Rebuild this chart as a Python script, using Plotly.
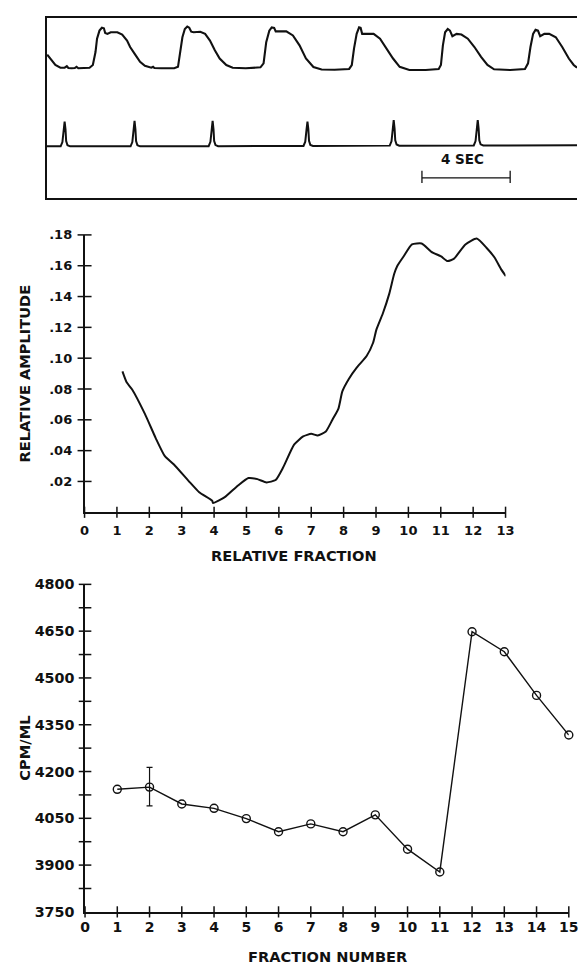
import plotly.graph_objects as go

# ---------------- data ----------------
# Panel A: recorder traces (time in seconds, amplitude in arbitrary chart units 0-100)
pressure_t = [0.01, 0.16, 0.38, 0.61, 0.80, 0.90, 0.97, 1.12, 1.26, 1.34, 1.42, 1.93, 2.08, 2.20, 2.27,
              2.38, 2.49, 2.58, 2.64, 2.74, 2.89, 3.19, 3.41, 3.63, 3.77, 4.00, 4.22, 4.44, 4.73, 4.81,
              4.87, 5.18, 5.77, 5.94, 6.03, 6.14, 6.25, 6.36, 6.45, 6.54, 6.65, 6.95, 7.17, 7.39, 7.61,
              7.83, 8.13, 8.42, 9.01, 9.68, 9.82, 9.94, 10.08, 10.19, 10.30, 10.37, 10.49, 10.85, 11.15,
              11.45, 11.74, 11.90, 12.08, 12.45, 13.04, 13.70, 13.82, 13.92, 14.04, 14.15, 14.22, 14.29,
              14.51, 14.81, 15.10, 15.40, 15.69, 15.99, 16.43, 17.17, 17.76, 17.86, 17.95, 18.05, 18.17,
              18.27, 18.38, 18.57, 18.79, 19.08, 19.38, 19.68, 19.97, 20.27, 21.00, 21.67, 21.81, 21.92,
              22.04, 22.15, 22.26, 22.36, 22.55, 22.77, 23.07, 23.36, 23.66, 23.88, 24.03]
pressure_v = [79.6, 77.4, 73.8, 72.3, 72.3, 73.1, 72.1, 72.0, 72.1, 72.8, 72.0, 72.3, 73.8, 81.0, 88.4,
              92.9, 94.5, 94.2, 91.6, 91.1, 92.0, 92.0, 90.7, 87.4, 83.8, 79.6, 75.6, 73.4, 72.3, 72.8,
              72.1, 72.0, 72.0, 72.8, 81.0, 89.2, 93.8, 95.2, 94.5, 92.3, 92.0, 92.3, 91.1, 87.4, 82.0,
              77.4, 73.8, 72.3, 72.0, 72.5, 74.7, 86.5, 92.9, 94.7, 94.4, 92.5, 92.5, 92.5, 90.2,
              84.7, 77.4, 74.9, 72.7, 71.3, 71.2, 71.6, 73.8, 82.9, 91.1, 94.7, 94.4, 91.1,
              91.1, 91.1, 88.4, 82.9, 77.4, 72.8, 71.0, 71.0, 71.6, 73.8, 84.7, 92.0, 93.8,
              92.9, 89.8, 91.1, 90.7, 88.4, 83.8, 78.3, 73.8, 71.4, 71.0, 71.6, 74.7, 83.8,
              91.1, 93.4, 92.9, 89.8, 91.1, 91.1, 89.2, 83.8, 77.4, 73.8, 72.3]

spike_t = [0.00, 0.62, 0.70, 0.76, 0.80, 0.84, 0.87, 0.93, 1.05,
           3.79, 3.87, 3.93, 3.97, 4.01, 4.04, 4.10, 4.22,
           7.33, 7.41, 7.47, 7.51, 7.55, 7.58, 7.64, 7.76,
           11.63, 11.71, 11.77, 11.81, 11.85, 11.88, 11.94, 12.06,
           15.54, 15.62, 15.68, 15.72, 15.76, 15.79, 15.85, 15.97,
           19.35, 19.43, 19.49, 19.53, 19.57, 19.60, 19.66, 19.78, 24.03]
spike_v = [28.6, 28.6, 31.0, 38.0, 42.4, 38.0, 31.5, 29.2, 28.6,
           28.6, 31.0, 38.0, 42.8, 38.0, 31.5, 29.2, 28.6,
           28.7, 31.1, 38.1, 42.8, 38.1, 31.6, 29.3, 28.7,
           28.8, 31.2, 38.2, 42.4, 38.2, 31.7, 29.4, 28.8,
           29.0, 31.4, 38.4, 43.2, 38.4, 31.9, 29.6, 29.0,
           29.1, 31.5, 38.5, 43.2, 38.5, 32.0, 29.7, 29.1, 29.2]

scalebar_t = [17.0, 17.0, 17.0, 21.0, 21.0, 21.0]
scalebar_v = [15.0, 8.2, 11.1, 11.1, 15.0, 8.2]
scalebar_label = "4 SEC"

# Panel B: relative amplitude vs relative fraction
rel_fraction = [1.17, 1.30, 1.47, 1.86, 2.20, 2.48, 2.76, 3.21, 3.54, 3.94, 3.97, 4.33, 4.73, 5.06,
                5.34, 5.62, 5.90, 6.13, 6.47, 6.75, 7.00, 7.20, 7.45, 7.65, 7.84, 7.96, 8.16, 8.41,
                8.71, 8.91, 9.01, 9.21, 9.41, 9.56, 9.66, 9.86, 10.11, 10.41, 10.71, 11.01, 11.21,
                11.41, 11.76, 12.11, 12.41, 12.66, 12.86, 13.01]
rel_amplitude = [0.0914, 0.0843, 0.0797, 0.064, 0.048, 0.0364, 0.031, 0.0204, 0.013, 0.0075, 0.006,
                 0.0098, 0.0172, 0.0222, 0.0215, 0.0194, 0.0209, 0.029, 0.0439, 0.0492, 0.0509, 0.0498,
                 0.0524, 0.0599, 0.0673, 0.0784, 0.0865, 0.094, 0.1014, 0.110, 0.1184, 0.129, 0.1419,
                 0.1546, 0.160, 0.1663, 0.1738, 0.1744, 0.169, 0.166, 0.163, 0.1646, 0.1738, 0.1776,
                 0.1717, 0.1653, 0.1578, 0.1532]
mid_xticks = list(range(0, 14))
mid_yticks = [0.02, 0.04, 0.06, 0.08, 0.10, 0.12, 0.14, 0.16, 0.18]
mid_yticktext = [".02", ".04", ".06", ".08", ".10", ".12", ".14", ".16", ".18"]

# Panel C: CPM/ML vs fraction number
fraction = [1, 2, 3, 4, 5, 6, 7, 8, 9, 10, 11, 12, 13, 14, 15]
cpm = [4143, 4150, 4096, 4082, 4049, 4007, 4032, 4007, 4061, 3951, 3878, 4648, 4584, 4444, 4317]
err_fraction = [2]
err_value = [4150]
err_plus = [63]
err_minus = [60]
bot_xticks = list(range(0, 16))
bot_ylabels = [3750, 3900, 4050, 4200, 4350, 4500, 4650, 4800]
bot_yticks = [3825, 3900, 3975, 4050, 4125, 4200, 4275, 4350, 4425, 4500, 4575, 4650, 4725, 4800]

# ---------------- figure ----------------
W, H = 586, 973
FONT = "DejaVu Sans"
BLACK = "#111111"

def px_x(p):
    return p / W

def px_y(p):
    return 1 - p / H

fig = go.Figure()

# Panel A traces
fig.add_trace(go.Scatter(x=pressure_t, y=pressure_v, mode="lines",
                         line=dict(color=BLACK, width=2.1), xaxis="x", yaxis="y"))
fig.add_trace(go.Scatter(x=spike_t, y=spike_v, mode="lines",
                         line=dict(color=BLACK, width=2), xaxis="x", yaxis="y"))
fig.add_trace(go.Scatter(x=scalebar_t, y=scalebar_v, mode="lines",
                         line=dict(color=BLACK, width=1.3), xaxis="x", yaxis="y"))

tick_ns = dict(symbol="line-ns-open", size=8, color=BLACK, line=dict(color=BLACK, width=1.5))
tick_ew = dict(symbol="line-ew-open", size=10, color=BLACK, line=dict(color=BLACK, width=1.5))

# Panel B
fig.add_trace(go.Scatter(x=rel_fraction, y=rel_amplitude, mode="lines",
                         line=dict(color=BLACK, width=2, shape="spline", smoothing=0.5),
                         xaxis="x2", yaxis="y2", cliponaxis=False))
fig.add_trace(go.Scatter(x=mid_xticks, y=[0] * len(mid_xticks), mode="markers", marker=tick_ns,
                         xaxis="x2", yaxis="y2", cliponaxis=False))
fig.add_trace(go.Scatter(x=[0] * len(mid_yticks), y=mid_yticks, mode="markers", marker=tick_ew,
                         xaxis="x2", yaxis="y2", cliponaxis=False))

# Panel C
fig.add_trace(go.Scatter(x=fraction, y=cpm, mode="lines+markers",
                         line=dict(color=BLACK, width=1.4),
                         marker=dict(symbol="circle-open", size=8, color=BLACK,
                                     line=dict(color=BLACK, width=1.4)),
                         xaxis="x3", yaxis="y3", cliponaxis=False))
fig.add_trace(go.Scatter(x=err_fraction, y=err_value, mode="markers",
                         marker=dict(size=1, color="rgba(0,0,0,0)"),
                         error_y=dict(type="data", symmetric=False, array=err_plus, arrayminus=err_minus,
                                      color=BLACK, thickness=1.2, width=3),
                         xaxis="x3", yaxis="y3", cliponaxis=False))
fig.add_trace(go.Scatter(x=bot_xticks, y=[3750] * len(bot_xticks), mode="markers", marker=tick_ns,
                         xaxis="x3", yaxis="y3", cliponaxis=False))
fig.add_trace(go.Scatter(x=[0] * len(bot_yticks), y=bot_yticks, mode="markers",
                         marker=dict(tick_ew, size=9),
                         xaxis="x3", yaxis="y3", cliponaxis=False))

noaxis = dict(showgrid=False, zeroline=False, ticks="", fixedrange=True)

fig.update_layout(
    width=W, height=H, autosize=False,
    margin=dict(l=0, r=0, t=0, b=0, pad=0),
    paper_bgcolor="white", plot_bgcolor="white",
    showlegend=False, hovermode=False,
    font=dict(family=FONT, color=BLACK, size=13, weight="bold"),
    xaxis=dict(domain=[px_x(43), 1.0], range=[0, 24.03], showline=True, mirror=True,
               linecolor=BLACK, linewidth=1.6, showticklabels=False, anchor="y", **noaxis),
    yaxis=dict(domain=[px_y(193), px_y(10)], range=[0, 100], showline=True,
               linecolor=BLACK, linewidth=1.6, showticklabels=False, anchor="x", **noaxis),
    xaxis2=dict(domain=[px_x(81.5), px_x(512.8)], range=[0, 13], showline=True,
                linecolor=BLACK, linewidth=1.5, tickvals=mid_xticks, ticklabelstandoff=5,
                tickfont=dict(family=FONT, size=13, weight="bold"), anchor="y2", **noaxis),
    yaxis2=dict(domain=[px_y(512.7), px_y(230.7)], range=[0, 0.18], showline=True,
                linecolor=BLACK, linewidth=1.5, tickvals=mid_yticks, ticktext=mid_yticktext,
                ticklabelstandoff=8, tickfont=dict(family=FONT, size=13, weight="bold"),
                anchor="x2", **noaxis),
    xaxis3=dict(domain=[px_x(82), px_x(577.6)], range=[0, 15], showline=True,
                linecolor=BLACK, linewidth=1.5, tickvals=bot_xticks, ticklabelstandoff=2,
                tickfont=dict(family=FONT, size=14, weight="bold"), anchor="y3", **noaxis),
    yaxis3=dict(domain=[px_y(919), px_y(586)], range=[3750, 4800], showline=True,
                linecolor=BLACK, linewidth=1.5, tickvals=bot_ylabels, ticklabelstandoff=6,
                tickfont=dict(family=FONT, size=14.3, weight="bold"), anchor="x3", **noaxis),
)

ann_font = dict(family=FONT, size=14.6, color=BLACK, weight="bold")
ann_common = dict(showarrow=False, xanchor="center", yanchor="middle")
fig.add_annotation(x=18.85, y=21.3, xref="x", yref="y", text=scalebar_label,
                   font=dict(family=FONT, size=13.5, color=BLACK, weight="bold"), **ann_common)
fig.add_annotation(x=px_x(20), y=px_y(372), xref="paper", yref="paper", text="RELATIVE AMPLITUDE",
                   textangle=-90, font=ann_font, **ann_common)
fig.add_annotation(x=px_x(296), y=px_y(557), xref="paper", yref="paper", text="RELATIVE FRACTION",
                   font=ann_font, **ann_common)
fig.add_annotation(x=px_x(20.5), y=px_y(753), xref="paper", yref="paper", text="CPM/ML",
                   textangle=-90, font=ann_font, **ann_common)
fig.add_annotation(x=px_x(330), y=px_y(964), xref="paper", yref="paper", text="FRACTION NUMBER",
                   font=ann_font, **ann_common)

fig.write_html("out.html")
